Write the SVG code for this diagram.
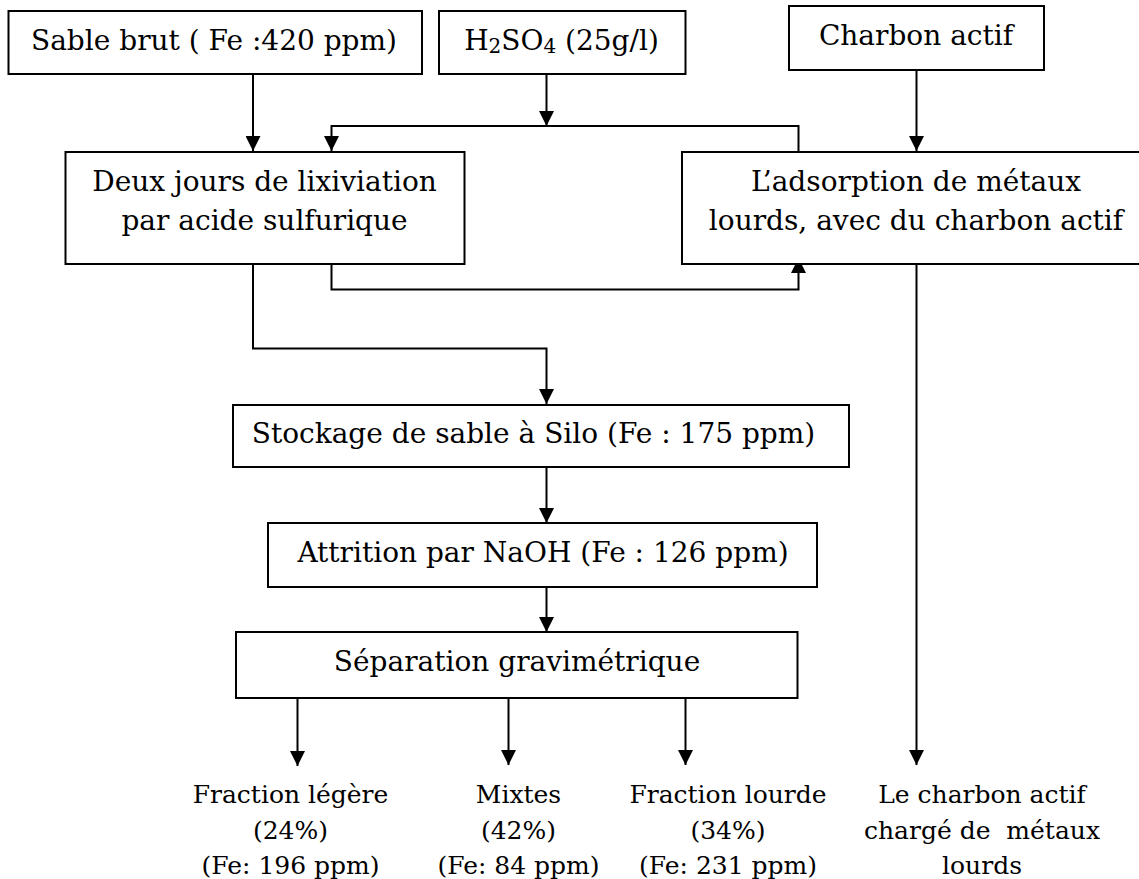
<svg xmlns="http://www.w3.org/2000/svg" width="1139" height="879" viewBox="0 0 1139 879">
  <style>
    .box { fill: #ffffff; stroke: #000000; stroke-width: 2; }
    .t { font-family: "DejaVu Serif", "Liberation Serif", serif; font-size: 28px; fill: #000000; text-anchor: middle; }
    .lbl { font-family: "DejaVu Serif", "Liberation Serif", serif; font-size: 25px; fill: #000000; text-anchor: middle; white-space: pre; }
    .sub { font-size: 20px; }
    .wire { fill: none; stroke: #000000; stroke-width: 2; }
  </style>
  <defs>
    <marker id="arrow" viewBox="0 0 15 15" refX="15" refY="7.5" markerWidth="15" markerHeight="15" markerUnits="userSpaceOnUse" orient="auto">
      <path d="M0,0 L15,7.5 L0,15 Z" fill="#000000"/>
    </marker>
  </defs>
  <rect width="1139" height="879" fill="#ffffff"/>

  <!-- process flow connectors -->
  <g id="connectors">
    <path class="wire" d="M253,74 V151" marker-end="url(#arrow)"/>
    <path class="wire" d="M546.5,74 V126" marker-end="url(#arrow)"/>
    <path class="wire" d="M798.5,152 V126 H331.5 V151" marker-end="url(#arrow)"/>
    <path class="wire" d="M916.5,70 V151" marker-end="url(#arrow)"/>
    <path class="wire" d="M331.5,264 V289.5 H798.5 V258" marker-end="url(#arrow)"/>
    <path class="wire" d="M253,264 V348.5 H546.5 V404" marker-end="url(#arrow)"/>
    <path class="wire" d="M546.5,467 V523" marker-end="url(#arrow)"/>
    <path class="wire" d="M546.5,587 V632" marker-end="url(#arrow)"/>
    <path class="wire" d="M297.5,698 V766" marker-end="url(#arrow)"/>
    <path class="wire" d="M508.5,698 V765" marker-end="url(#arrow)"/>
    <path class="wire" d="M685.5,698 V765" marker-end="url(#arrow)"/>
    <path class="wire" d="M916.5,264 V765" marker-end="url(#arrow)"/>
  </g>

  <g id="sable-brut">
    <rect class="box" x="8.5" y="11" width="413.5" height="63"/>
    <text class="t" x="214" y="50">Sable brut ( Fe :420 ppm)</text>
  </g>

  <g id="acide">
    <rect class="box" x="439" y="11" width="246.5" height="63"/>
    <text class="t" x="561.5" y="50">H<tspan class="sub" dy="3">2</tspan><tspan dy="-3">SO</tspan><tspan class="sub" dy="3">4</tspan><tspan dy="-3"> (25g/l)</tspan></text>
  </g>

  <g id="charbon-actif">
    <rect class="box" x="789" y="6" width="255" height="64"/>
    <text class="t" x="916" y="45">Charbon actif</text>
  </g>

  <g id="lixiviation">
    <rect class="box" x="65.5" y="152" width="399" height="112"/>
    <text class="t" x="264.5" y="191">Deux jours de lixiviation</text>
    <text class="t" x="264.5" y="230">par acide sulfurique</text>
  </g>

  <g id="adsorption">
    <rect class="box" x="682" y="152" width="470" height="112"/>
    <text class="t" x="916" y="191">L’adsorption de métaux</text>
    <text class="t" x="916" y="230">lourds, avec du charbon actif</text>
  </g>

  <g id="stockage">
    <rect class="box" x="233" y="405" width="616" height="62"/>
    <text class="t" x="533.5" y="443">Stockage de sable à Silo (Fe : 175 ppm)</text>
  </g>

  <g id="attrition">
    <rect class="box" x="268" y="523" width="549" height="64"/>
    <text class="t" x="543" y="562">Attrition par NaOH (Fe : 126 ppm)</text>
  </g>

  <g id="separation">
    <rect class="box" x="236" y="632" width="561.5" height="66"/>
    <text class="t" x="517" y="671">Séparation gravimétrique</text>
  </g>

  <g id="fraction-legere">
    <text class="lbl" x="290.5" y="803">Fraction légère</text>
    <text class="lbl" x="290.5" y="839">(24%)</text>
    <text class="lbl" x="290.5" y="874">(Fe: 196 ppm)</text>
  </g>

  <g id="mixtes">
    <text class="lbl" x="518.5" y="803">Mixtes</text>
    <text class="lbl" x="518.5" y="839">(42%)</text>
    <text class="lbl" x="518.5" y="874">(Fe: 84 ppm)</text>
  </g>

  <g id="fraction-lourde">
    <text class="lbl" x="728" y="803">Fraction lourde</text>
    <text class="lbl" x="728" y="839">(34%)</text>
    <text class="lbl" x="728" y="874">(Fe: 231 ppm)</text>
  </g>

  <g id="charbon-charge">
    <text class="lbl" x="982" y="803">Le charbon actif</text>
    <text class="lbl" x="982" y="839">chargé de  métaux</text>
    <text class="lbl" x="982" y="874">lourds</text>
  </g>
</svg>
